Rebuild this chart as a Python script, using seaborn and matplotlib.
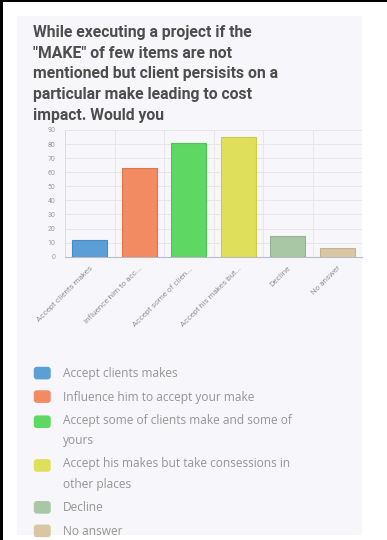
import matplotlib
matplotlib.use("Agg")
import matplotlib.pyplot as plt
from matplotlib.patches import Rectangle, FancyBboxPatch
from matplotlib.legend_handler import HandlerPatch
import seaborn as sns
import pandas as pd

# Survey responses
categories = [
    "Accept clients makes",
    "Influence him to accept your make",
    "Accept some of clients make and some of yours",
    "Accept his makes but take consessions in other places",
    "Decline",
    "No answer",
]
tick_labels = [
    "Accept clients makes",
    "Influence him to acc...",
    "Accept some of clien...",
    "Accept his makes but...",
    "Decline",
    "No answer",
]
legend_labels = [
    "Accept clients makes",
    "Influence him to accept your make",
    "Accept some of clients make and some of\nyours",
    "Accept his makes but take consessions in\nother places",
    "Decline",
    "No answer",
]
counts = [12, 63, 81, 85, 15, 6]
colors = ["#5b9fd6", "#f28a62", "#5fd863", "#dfdf5c", "#a9c7a5", "#d8c7a2"]
edge_colors = ["#4a8cc2", "#e07650", "#4cc450", "#cccc48", "#95b391", "#c4b38e"]
y_ticks = list(range(0, 100, 10))

title = ("While executing a project if the\n\"MAKE\" of few items are not\n"
         "mentioned but client persisits on a\nparticular make leading to cost\n"
         "impact. Would you")


class SwatchHandler(HandlerPatch):
    """Rounded colour swatch aligned with the first line of its label."""

    def __init__(self, shift=0.0, **kw):
        super().__init__(**kw)
        self.shift = shift

    def create_artists(self, legend, orig_handle, xdescent, ydescent,
                       width, height, fontsize, trans):
        p = FancyBboxPatch((-xdescent, -ydescent + self.shift), width, height,
                           boxstyle="round,pad=0,rounding_size=2.2",
                           facecolor=orig_handle.get_facecolor(),
                           edgecolor="none", transform=trans)
        return [p]


sns.set_theme(style="white")
plt.rcParams["font.family"] = ["Roboto", "DejaVu Sans"]

W, H = 387, 540
fig = plt.figure(figsize=(W / 100, H / 100), dpi=100)
fig.patch.set_facecolor("white")

# card background and page edges
fig.patches.append(Rectangle((17 / W, 5 / H), (362 - 17) / W, (535 - 16) / H,
                             transform=fig.transFigure, facecolor="#f7f7fb",
                             edgecolor="none", zorder=-10))
fig.patches.append(Rectangle((0, 0), 3 / W, 1, transform=fig.transFigure,
                             facecolor="black", edgecolor="none", zorder=-9))
fig.patches.append(Rectangle((0, 1 - 1.5 / H), 1, 1.5 / H, transform=fig.transFigure,
                             facecolor="black", edgecolor="none", zorder=-9))

fig.text(33 / W, 1 - 25 / H, title, ha="left", va="top", fontsize=11.3,
         fontweight="bold", color="#4d4d4d", linespacing=1.47)

ax = fig.add_axes([65 / W, 1 - 256.7 / H, (362 - 65) / W, (256.7 - 130) / H])
ax.set_facecolor("none")

df = pd.DataFrame({"answer": categories, "count": counts})
sns.barplot(data=df, x="answer", y="count", hue="answer", palette=colors,
            order=categories, hue_order=categories, width=0.71, legend=False,
            ax=ax, zorder=3, saturation=1)
for patch, ec in zip(ax.patches, edge_colors):
    patch.set_edgecolor(ec)
    patch.set_linewidth(0.8)

ax.set_xlim(-0.5, len(categories) - 0.5)
ax.set_ylim(0, 90)
ax.set_yticks(y_ticks)
ax.set_yticklabels([str(t) for t in y_ticks], fontsize=5, color="#9a9a9a")
ax.set_xticks(range(len(categories)))
ax.set_xticklabels(tick_labels, rotation=45, ha="right", rotation_mode="anchor",
                   fontsize=5.8, color="#949494")
ax.set_xticks([i - 0.5 for i in range(len(categories) + 1)], minor=True)
ax.tick_params(axis="x", which="major", length=0, pad=6)
ax.tick_params(axis="x", which="minor", length=4, color="#e4e4e4", width=0.6)
ax.tick_params(axis="y", length=4, color="#e4e4e4", width=0.6, pad=3)
ax.set_xlabel("")
ax.set_ylabel("")
ax.grid(axis="y", color="#e4e4e8", linewidth=0.6, zorder=0)
ax.grid(axis="x", which="minor", color="#e4e4e8", linewidth=0.6, zorder=0)
for side in ["top", "right"]:
    ax.spines[side].set_visible(False)
ax.spines["left"].set_color("#dcdce0")
ax.spines["left"].set_linewidth(0.7)
ax.spines["bottom"].set_color("#b8bcc8")
ax.spines["bottom"].set_linewidth(0.8)

# legend built from the same colours and labels
handles = [Rectangle((0, 0), 1, 1, facecolor=c) for c in colors]
handler_map = {}
for h, lab in zip(handles, legend_labels):
    n_extra = lab.count("\n")
    handler_map[h] = SwatchHandler(shift=7.0 * n_extra)
leg = fig.legend(handles, legend_labels, loc="upper left",
                 bbox_to_anchor=(29 / W, 1 - 362 / H), frameon=False,
                 prop={"family": ["Open Sans", "DejaVu Sans"], "size": 8.6},
                 handlelength=1.42, handleheight=1.25,
                 handletextpad=1.0, labelspacing=0.85, borderaxespad=0,
                 handler_map=handler_map)
for t in leg.get_texts():
    t.set_color("#959595")
    t.set_linespacing(1.75)

fig.savefig("out.png", dpi=100)
